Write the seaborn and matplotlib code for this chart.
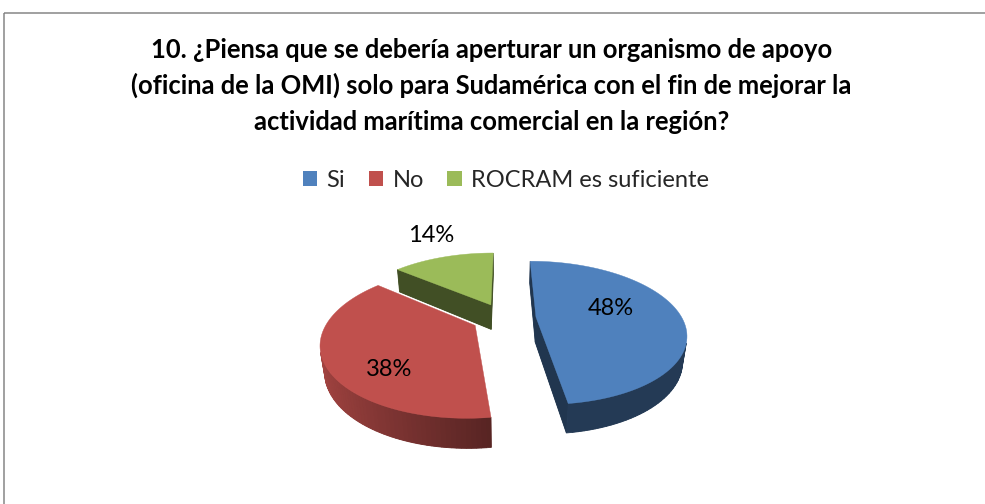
"""Gráfico de pastel 3D (encuesta, pregunta 10) hecho con matplotlib + seaborn."""

import numpy as np
import matplotlib
matplotlib.use("Agg")
import matplotlib.pyplot as plt
from matplotlib.patches import Polygon, Patch, Rectangle
import seaborn as sns

TITLE_LINES = [
    "10. ¿Piensa que se debería aperturar un organismo de apoyo",
    "(oficina de la OMI) solo para Sudamérica con el fin de mejorar la",
    "actividad marítima comercial en la región?",
]
CATEGORIES = ["Si", "No", "ROCRAM es suficiente"]
PERCENTS = [48, 38, 14]
COLORS = ["#4F81BD", "#C0504D", "#9BBB59"]
LABEL_RADIUS = [0.52, 0.6, 1.3]   # desde el vertice de cada porcion
LABEL_DY = [-6, 22, 0]            # ajuste vertical en px

# vista 3D (en pixeles de la figura)
W, H = 985, 504
CX, CY = 504, 318
FOCAL, DIST = 584.0, 4.0
ELEV = np.radians(28)
DEPTH = 0.2
EXPLODE = 0.22

CAM = np.array([0.0, -DIST * np.cos(ELEV), DIST * np.sin(ELEV)])


def project(X, Y, Z):
    v = Z * np.cos(ELEV) + Y * np.sin(ELEV)
    w = Y * np.cos(ELEV) - Z * np.sin(ELEV)
    s = FOCAL / (DIST + w)
    return CX + X * s, CY - v * s, w


def shade(color, f):
    rgb = np.array(matplotlib.colors.to_rgb(color))
    return tuple(np.clip(rgb * f, 0, 1))


def visible(normal, pts3d):
    c = np.mean(pts3d, axis=0)
    return np.dot(normal, CAM - c) > 0


def to_face(pts3d, color):
    P = np.array(pts3d)
    x, y, w = project(P[:, 0], P[:, 1], P[:, 2])
    return (w.mean(), np.column_stack([x, y]), color)


sns.set_theme(style="white")
plt.rcParams["font.family"] = ["Lato", "DejaVu Sans"]

fig = plt.figure(figsize=(W / 100, H / 100), dpi=100)
ax = fig.add_axes([0, 0, 1, 1])
ax.set_xlim(0, W)
ax.set_ylim(H, 0)
ax.axis("off")

ax.add_patch(Rectangle((3.5, 12.5), 1200, 800, fill=False,
                       edgecolor="#868686", lw=1.1))

side_groups, top_faces, labels = [], [], []
start = 0.0
for pct, col, lr, dy in zip(PERCENTS, COLORS, LABEL_RADIUS, LABEL_DY):
    t0 = np.radians(start * 3.6)
    t1 = np.radians((start + pct) * 3.6)
    tm = (t0 + t1) / 2
    ox, oy = EXPLODE * np.sin(tm), EXPLODE * np.cos(tm)
    th = np.linspace(t0, t1, 90)
    rx, ry = ox + np.sin(th), oy + np.cos(th)

    # cara superior
    P = np.column_stack([np.r_[ox, rx], np.r_[oy, ry], np.zeros(len(th) + 1)])
    x, y, _ = project(P[:, 0], P[:, 1], P[:, 2])
    top_faces.append((np.column_stack([x, y]), col))

    # pared exterior: fondo continuo + tramos sombreados
    vis = []
    for i in range(len(th) - 1):
        pts = [(rx[i], ry[i], 0), (rx[i + 1], ry[i + 1], 0),
               (rx[i + 1], ry[i + 1], -DEPTH), (rx[i], ry[i], -DEPTH)]
        ta = (th[i] + th[i + 1]) / 2
        n = np.array([np.sin(ta), np.cos(ta), 0])
        if visible(n, pts):
            f = max(0.45, 0.5 + 0.37 * (-np.sin(ta)))
            vis.append(to_face(pts, shade(col, f)))
    if vis:
        outline = np.vstack([v[1][:2] for v in vis] + [v[1][2:][::-1] for v in vis][::-1])
        depth = np.mean([v[0] for v in vis])
        side_groups.append((depth, outline, vis))

    # caras de corte radiales
    for t, n in [(t0, np.array([-np.cos(t0), np.sin(t0), 0])),
                 (t1, np.array([np.cos(t1), -np.sin(t1), 0]))]:
        ex, ey = ox + np.sin(t), oy + np.cos(t)
        pts = [(ox, oy, 0), (ex, ey, 0), (ex, ey, -DEPTH), (ox, oy, -DEPTH)]
        if visible(n, pts):
            d, xy, c = to_face(pts, shade(col, 0.42))
            side_groups.append((d, xy, [(d, xy, c)]))

    lx, ly, _ = project(ox + lr * np.sin(tm), oy + lr * np.cos(tm), 0)
    labels.append((lx, ly + dy, f"{pct}%", lr > 1))
    start += pct

for _, outline, parts in sorted(side_groups, key=lambda g: -g[0]):
    base = parts[len(parts) // 2][2]
    ax.add_patch(Polygon(outline, closed=True, facecolor=base, edgecolor="none"))
    for _, xy, c in parts:
        ax.add_patch(Polygon(xy, closed=True, facecolor=c, edgecolor=c, lw=0.6))
for xy, c in top_faces:
    ax.add_patch(Polygon(xy, closed=True, facecolor=c, edgecolor=c, lw=0.3))

for lx, ly, txt, outside in labels:
    ax.text(lx, ly, txt, ha="center", va="bottom" if outside else "center",
            fontsize=17, color="black")

for i, line in enumerate(TITLE_LINES):
    ax.text(W / 2 - 1, 58 + i * 36, line, ha="center", va="baseline",
            fontsize=18.4, fontweight="bold", color="black")

handles = [Patch(facecolor=c, edgecolor="none") for c in COLORS]
fig.legend(handles, CATEGORIES, loc="center", bbox_to_anchor=(506 / W, 1 - 180 / H),
           ncol=3, frameon=False, fontsize=17, handlelength=0.6, handleheight=0.6,
           columnspacing=1.0, handletextpad=0.4)

fig.savefig("out.png", dpi=100)
plt.close(fig)
